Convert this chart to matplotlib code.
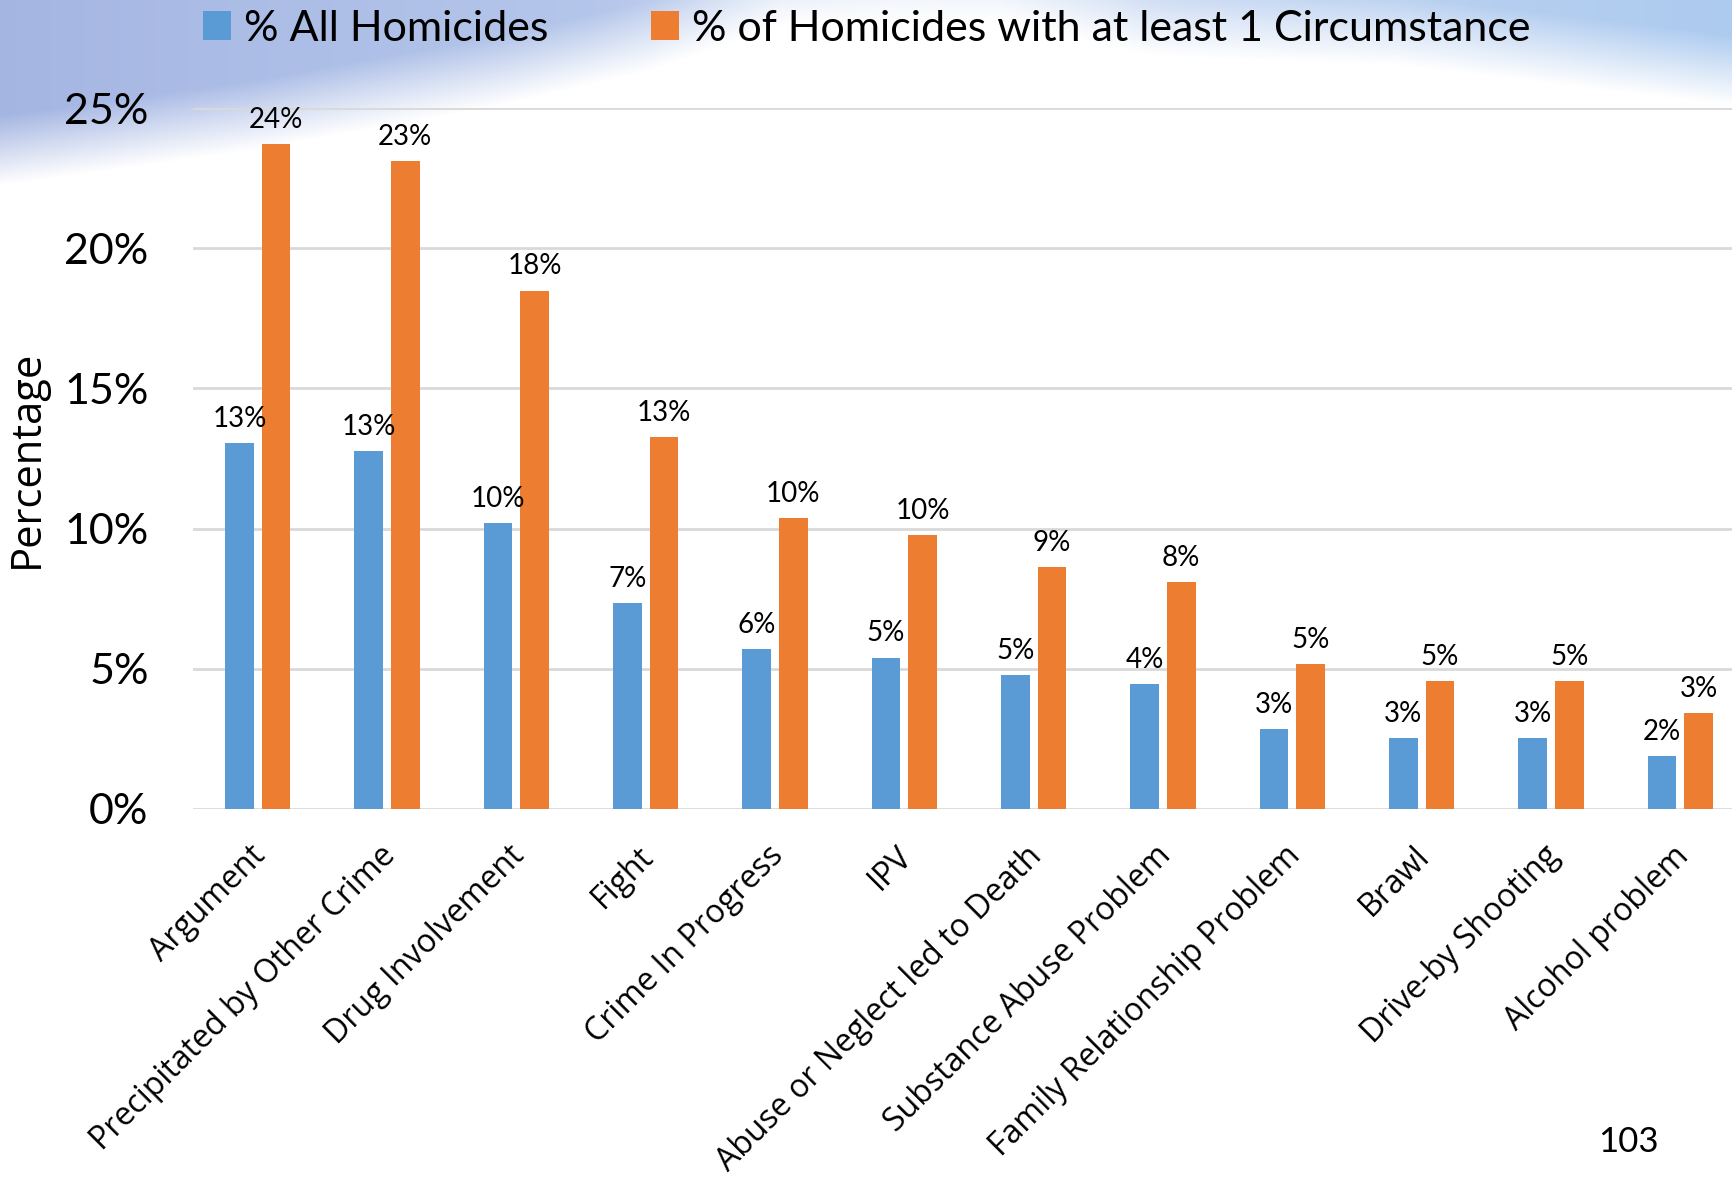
import numpy as np
import matplotlib
matplotlib.use("Agg")
import matplotlib.pyplot as plt
import matplotlib.transforms as mtransforms

categories = ["Argument", "Precipitated by Other Crime", "Drug Involvement", "Fight",
              "Crime In Progress", "IPV", "Abuse or Neglect led to Death",
              "Substance Abuse Problem", "Family Relationship Problem", "Brawl",
              "Drive-by Shooting", "Alcohol problem"]
all_homicides = [13.05, 12.78, 10.21, 7.33, 5.72, 5.40, 4.77, 4.46, 2.84, 2.52, 2.52, 1.89]
with_circ = [23.70, 23.11, 18.49, 13.25, 10.37, 9.78, 8.64, 8.08, 5.17, 4.57, 4.57, 3.43]
series_names = ["% All Homicides", "% of Homicides with at least 1 Circumstance"]
yticks = [0, 5, 10, 15, 20, 25]
page_number = "103"

BLUE = "#5B9BD5"
ORANGE = "#ED7D31"
NUM_FONT = ["Lato", "DejaVu Sans"]
LBL_FONT = ["Open Sans", "DejaVu Sans"]

W, H = 1733, 1179
fig = plt.figure(figsize=(W / 100, H / 100), dpi=100)

# decorative slide background (blue swoosh at top)
bg = fig.add_axes([0, 0, 1, 1], zorder=-10)
bg.set_axis_off()
xx, yy = np.meshgrid(np.arange(W), np.arange(H))
hx = np.interp(np.arange(W), [0, 250, 500, 650, 780, 1000, 1150, 1400, 1733],
               [185, 150, 105, 70, 25, 20, 55, 65, 105])
strength = np.interp(np.arange(W), [0, 600, 900, 1200, 1733], [0.8, 0.7, 0.35, 0.6, 0.85])
alpha = np.clip((hx[None, :] - yy) / 70.0, 0, 1) * strength[None, :]
col_l = np.array([0.56, 0.64, 0.86])
col_r = np.array([0.62, 0.76, 0.93])
t = (np.arange(W) / W)[None, :, None]
col = col_l * (1 - t) + col_r * t
img = np.ones((H, W, 3)) * (1 - alpha[..., None]) + col * alpha[..., None]
bg.imshow(img, extent=[0, 1, 0, 1], aspect="auto", transform=bg.transAxes)
bg.set_xlim(0, 1)
bg.set_ylim(0, 1)

left = 193 / W
bottom = 1 - 809 / H
top = 1 - 108 / H
right = 1745 / W
ax = fig.add_axes([left, bottom, right - left, top - bottom])
ax.patch.set_alpha(0)

x = np.arange(len(categories))
bw = 0.222
off = 0.141
b1 = ax.bar(x - off, all_homicides, bw, color=BLUE, label=series_names[0], zorder=3)
b2 = ax.bar(x + off, with_circ, bw, color=ORANGE, label=series_names[1], zorder=3)

for bars, vals in ((b1, all_homicides), (b2, with_circ)):
    for rect, v in zip(bars, vals):
        ax.annotate(f"{round(v):d}%", (rect.get_x() + rect.get_width() / 2, v),
                    xytext=(0, 8), textcoords="offset points", ha="center", va="bottom",
                    fontsize=20, family=NUM_FONT, color="black", clip_on=False,
                    annotation_clip=False)

ax.set_xlim(-0.5, len(categories) - 0.5)
ax.set_ylim(0, 25)
ax.set_yticks(yticks)
ax.set_yticklabels([f"{v}%" for v in yticks], fontsize=31, family=NUM_FONT)
ax.yaxis.grid(True, color="#D9D9D9", linewidth=2, zorder=0)
ax.set_axisbelow(True)
ax.tick_params(axis="y", length=0, pad=32)
ax.tick_params(axis="x", length=0, pad=22)
for s in ax.spines.values():
    s.set_visible(False)

ax.set_xticks(x)
ax.set_xticklabels(categories, rotation=45, ha="right", va="top",
                   rotation_mode="anchor", fontsize=23, family=LBL_FONT)
shift = mtransforms.ScaledTranslation(-6 / 72, 0, fig.dpi_scale_trans)
for lab in ax.get_xticklabels():
    lab.set_transform(lab.get_transform() + shift)

ax.set_ylabel("Percentage", fontsize=30, family=LBL_FONT, labelpad=12)

leg = fig.legend(handles=[b1, b2], labels=series_names, loc="upper left",
                 bbox_to_anchor=(203 / W, 1 - 10 / H), ncol=2, frameon=False,
                 prop={"family": NUM_FONT, "size": 31},
                 handlelength=0.66, handleheight=0.66, handletextpad=0.3,
                 columnspacing=2.37, borderaxespad=0, borderpad=0)

fig.text(1628 / W, 1 - 1142 / H, page_number, ha="center", va="center",
         fontsize=25, family=NUM_FONT)

fig.savefig("out.png", dpi=100)
